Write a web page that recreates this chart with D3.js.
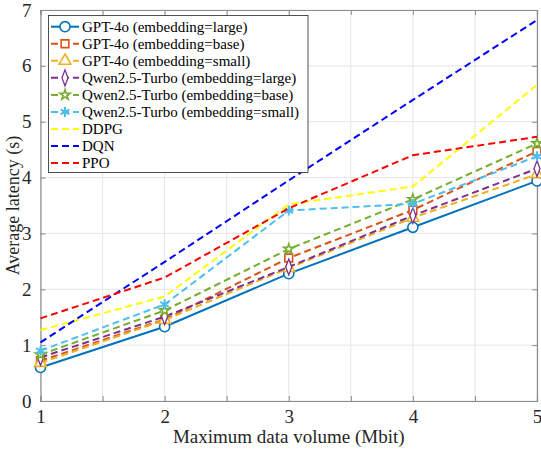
<!DOCTYPE html>
<html><head><meta charset="utf-8">
<script src="https://cdn.jsdelivr.net/npm/d3@7"></script>
<style>body{margin:0;background:#fff}svg{display:block}</style>
</head><body><svg id="c" width="541" height="451"></svg>
<script>
const xValues = [1, 2, 3, 4, 5];
const xTicks = [1, 1.5, 2, 2.5, 3, 3.5, 4, 4.5, 5];
const xTickLabels = ["1", "", "2", "", "3", "", "4", "", "5"];
const yTicks = [0, 1, 2, 3, 4, 5, 6, 7];
const seriesNames = ["GPT-4o (embedding=large)", "GPT-4o (embedding=base)", "GPT-4o (embedding=small)",
  "Qwen2.5-Turbo (embedding=large)", "Qwen2.5-Turbo (embedding=base)", "Qwen2.5-Turbo (embedding=small)",
  "DDPG", "DQN", "PPO"];
const gptLarge  = [0.60, 1.33, 2.28, 3.11, 3.94];
const gptBase   = [0.72, 1.46, 2.56, 3.42, 4.47];
const gptSmall  = [0.68, 1.45, 2.38, 3.28, 4.06];
const qwenLarge = [0.78, 1.51, 2.40, 3.32, 4.16];
const qwenBase  = [0.83, 1.62, 2.72, 3.61, 4.61];
const qwenSmall = [0.90, 1.73, 3.41, 3.53, 4.38];
const ddpg      = [1.27, 1.87, 3.52, 3.84, 5.66];
const dqn       = [1.05, 2.49, 3.95, 5.39, 6.82];
const ppo       = [1.48, 2.21, 3.45, 4.40, 4.73];

const seriesValues = [gptLarge, gptBase, gptSmall, qwenLarge, qwenBase, qwenSmall, ddpg, dqn, ppo];
const styles = [
  {color:"#0072BD", dash:null, marker:"circle"},
  {color:"#D95319", dash:"7,4", marker:"square"},
  {color:"#EDB120", dash:"7,4", marker:"triangle"},
  {color:"#7E2F8E", dash:"7,4", marker:"diamond"},
  {color:"#77AC30", dash:"7,4", marker:"star"},
  {color:"#4DBEEE", dash:"7,4", marker:"asterisk"},
  {color:"#FFFF00", dash:"7,4", marker:null},
  {color:"#0000FF", dash:"7,4", marker:null},
  {color:"#FF0000", dash:"7,4", marker:null}
];

const svg = d3.select("#c");
const L = 40.5, R = 537, T = 10, B = 401;
const x = d3.scaleLinear().domain([1,5]).range([L,R]);
const y = d3.scaleLinear().domain([0,7]).range([B,T]);
const font = "'Liberation Serif', 'DejaVu Serif', serif";

// grid
svg.append("g").selectAll("line").data(xTicks).join("line")
  .attr("x1", d=>x(d)).attr("x2", d=>x(d)).attr("y1", T).attr("y2", B)
  .attr("stroke", "#e6e6e6").attr("stroke-width", 1);
svg.append("g").selectAll("line").data(yTicks).join("line")
  .attr("x1", L).attr("x2", R).attr("y1", d=>y(d)).attr("y2", d=>y(d))
  .attr("stroke", "#e6e6e6").attr("stroke-width", 1);

// axes
const xAxis = d3.axisBottom(x).tickValues(xTicks).tickSize(-5).tickPadding(9)
  .tickFormat((d,i)=>xTickLabels[i]);
const gx = svg.append("g").attr("transform", `translate(0,${B})`).call(xAxis);
const yAxis = d3.axisLeft(y).tickValues(yTicks).tickSize(-5).tickPadding(9).tickFormat(d3.format("d"));
const gy = svg.append("g").attr("transform", `translate(${L},0)`).call(yAxis);
const gxt = svg.append("g").attr("transform", `translate(0,${T})`)
  .call(d3.axisTop(x).tickValues(xTicks).tickSize(-5).tickFormat(""));
const gyr = svg.append("g").attr("transform", `translate(${R},0)`)
  .call(d3.axisRight(y).tickValues(yTicks).tickSize(-5).tickFormat(""));
[gx, gy, gxt, gyr].forEach(g => {
  g.select(".domain").attr("stroke", "#8c8c8c").attr("stroke-width", 1.2);
  g.selectAll(".tick line").attr("stroke", "#8c8c8c");
  g.selectAll("text").attr("font-family", font).attr("font-size", 19).attr("fill", "#262626");
});

// lines
const line = d3.line().x((d,i)=>x(xValues[i])).y(d=>y(d));
const symbolOf = {
  circle: d3.symbolCircle, square: d3.symbolSquare, triangle: d3.symbolTriangle,
  diamond: d3.symbolDiamond, star: d3.symbolStar, asterisk: d3.symbolAsterisk
};
const sizeOf = {circle: 80, square: 60, triangle: 60, diamond: 55, star: 32, asterisk: 70};
function drawMarker(g, m, color, cx, cy) {
  if (!m) return;
  g.append("path").attr("d", d3.symbol(symbolOf[m], sizeOf[m])())
    .attr("transform", `translate(${cx},${cy})${m==="diamond" ? " scale(0.75,1.15)" : ""}`)
    .attr("fill", m==="asterisk" ? "none" : "#fff").attr("stroke", color).attr("stroke-width", m==="asterisk" ? 2 : 1.6);
}
const plot = svg.append("g");
seriesValues.forEach((vals, k) => {
  const s = styles[k];
  plot.append("path").datum(vals).attr("d", line).attr("fill", "none")
    .attr("stroke", s.color).attr("stroke-width", 2)
    .attr("stroke-dasharray", s.dash);
  vals.forEach((v,i) => drawMarker(plot, s.marker, s.color, x(xValues[i]), y(v)));
});

// labels
svg.append("text").attr("x", (L+R)/2).attr("y", 443).attr("text-anchor", "middle")
  .attr("font-family", font).attr("font-size", 19).attr("fill", "#262626")
  .text("Maximum data volume (Mbit)");
svg.append("text").attr("transform", `translate(19,${(T+B)/2}) rotate(-90)`).attr("text-anchor", "middle")
  .attr("font-family", font).attr("font-size", 18).attr("fill", "#262626")
  .text("Average latency (s)");

// legend
const lg = svg.append("g");
lg.append("rect").attr("x", 48.5).attr("y", 15.5).attr("width", 259.5).attr("height", 157)
  .attr("fill", "#fff").attr("stroke", "#262626").attr("stroke-width", 0.8);
seriesNames.forEach((name, k) => {
  const s = styles[k];
  const cy = 26.7 + k*17.05;
  lg.append("line").attr("x1", 51).attr("x2", 79).attr("y1", cy).attr("y2", cy)
    .attr("stroke", s.color).attr("stroke-width", 2).attr("stroke-dasharray", s.dash);
  drawMarker(lg, s.marker, s.color, 65, cy);
  lg.append("text").attr("x", 82).attr("y", cy).attr("dy", "0.35em")
    .attr("font-family", font).attr("font-size", 15).attr("fill", "#000").text(name);
});
</script></body></html>
